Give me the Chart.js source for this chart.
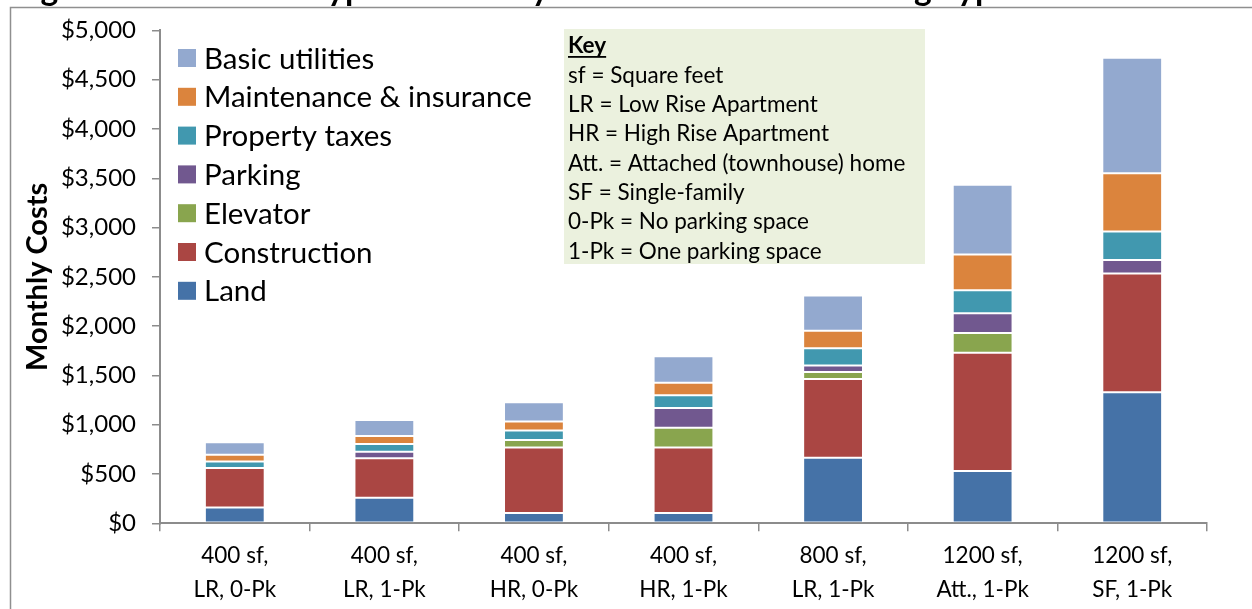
<!DOCTYPE html>
<html><head><meta charset="utf-8">
<script src="https://cdn.jsdelivr.net/npm/chart.js@4.4.1/dist/chart.umd.min.js"></script>
<style>html,body{margin:0;padding:0;background:#fff;overflow:hidden}#wrap{width:1252px;height:609px;position:relative}</style>
</head><body><div id="wrap"><canvas id="c" width="1252" height="609"></canvas></div>
<script>
const chartTitle = "Figure 3: Estimated Typical Monthly Costs of Various Housing Types";
const categories = [["400 sf,","LR, 0-Pk"],["400 sf,","LR, 1-Pk"],["400 sf,","HR, 0-Pk"],["400 sf,","HR, 1-Pk"],["800 sf,","LR, 1-Pk"],["1200 sf,","Att., 1-Pk"],["1200 sf,","SF, 1-Pk"]];
const seriesNames = ["Land","Construction","Elevator","Parking","Property taxes","Maintenance & insurance","Basic utilities"];
const land          = [160, 260, 105, 105, 665, 530, 1330];
const construction  = [400, 400, 665, 665, 800, 1200, 1205];
const elevator      = [0, 0, 75, 200, 70, 200, 0];
const parking       = [0, 65, 0, 200, 65, 200, 135];
const propertyTaxes = [68, 80, 97, 130, 175, 235, 290];
const maintenance   = [67, 80, 90, 127, 178, 362, 592];
const utilities     = [126, 164, 195, 268, 358, 706, 1170];
const yMax = 5000, yStep = 500;
const yAxisTitle = "Monthly Costs";
const keyTitle = "Key";
const keyLines = ["sf = Square feet","LR = Low Rise Apartment","HR = High Rise Apartment","Att. = Attached (townhouse) home","SF = Single-family","0-Pk = No parking space","1-Pk = One parking space"];
const colors = ["#4572A7","#AA4643","#89A54E","#71588F","#4198AF","#DB843D","#93A9CF"];

const seriesValues = [land, construction, elevator, parking, propertyTaxes, maintenance, utilities];
const FONT = "Lato, 'Open Sans', sans-serif";

const decor = {
  id: 'decor',
  afterDraw(chart) {
    const ctx = chart.ctx;
    ctx.save();
    // frame
    ctx.strokeStyle = '#8f8f8f'; ctx.lineWidth = 1.5;
    ctx.beginPath(); ctx.moveTo(10.5, 609); ctx.lineTo(10.5, 7.5); ctx.lineTo(1252, 7.5); ctx.stroke();
    // clipped title
    ctx.fillStyle = '#000'; ctx.textAlign = 'left'; ctx.textBaseline = 'alphabetic';
    ctx.font = "bold 100px " + FONT;
    const tw = ctx.measureText(chartTitle).width;
    const fs = 100 * 1014 / tw;
    ctx.font = "bold " + fs.toFixed(2) + "px " + FONT;
    ctx.fillText(chartTitle, 13, -0.5);
    // legend (reverse order)
    const ds = chart.data.datasets;
    ctx.font = "29.5px " + FONT; ctx.textBaseline = 'middle';
    for (let i = 0; i < ds.length; i++) {
      const d = ds[ds.length - 1 - i];
      const y = 58 + i * 38.8;
      ctx.fillStyle = d.backgroundColor;
      ctx.fillRect(178, y - 9, 18, 18);
      ctx.fillStyle = '#000';
      ctx.fillText(d.label, 204, y + 1);
    }
    // key box
    ctx.fillStyle = '#EBF1DE';
    ctx.fillRect(564, 29, 361, 235);
    ctx.fillStyle = '#000';
    ctx.font = "bold 22.5px " + FONT;
    ctx.fillText(keyTitle, 568, 46);
    const kw = ctx.measureText(keyTitle).width;
    ctx.fillRect(568, 56, kw, 1.8);
    ctx.font = "22.5px " + FONT;
    keyLines.forEach((t, i) => ctx.fillText(t, 568, 75.5 + i * 29.3));
    ctx.restore();
  }
};

new Chart(document.getElementById('c'), {
  type: 'bar',
  data: {
    labels: categories,
    datasets: seriesNames.map((n, i) => ({
      label: n,
      data: seriesValues[i],
      backgroundColor: colors[i],
      borderColor: 'rgba(255,255,255,0.22)',
      borderWidth: 1,
      borderSkipped: false,
      categoryPercentage: 1.0,
      barPercentage: 0.4
    }))
  },
  options: {
    responsive: false,
    animation: false,
    devicePixelRatio: 1,
    layout: { padding: { left: 0, right: 45, top: 25, bottom: 0 } },
    plugins: { legend: { display: false }, tooltip: { enabled: false }, title: { display: false } },
    scales: {
      x: {
        stacked: true,
        afterFit(s) { s.height = 85.7; },
        border: { color: '#8c8c8c', width: 2 },
        grid: { display: true, drawOnChartArea: false, drawTicks: true, tickLength: 8, color: '#8c8c8c', lineWidth: 1.5, offset: true },
        ticks: { color: '#000', font: { family: FONT, size: 22.5, lineHeight: 1.5 }, padding: 8, maxRotation: 0, autoSkip: false }
      },
      y: {
        stacked: true,
        min: 0, max: yMax,
        afterFit(s) { s.width = 160; },
        border: { color: '#8c8c8c', width: 2 },
        grid: { display: true, drawOnChartArea: false, drawTicks: true, tickLength: 8, color: '#8c8c8c', lineWidth: 1.5 },
        ticks: {
          stepSize: yStep, color: '#000', padding: 16,
          font: { family: FONT, size: 24 },
          callback: v => '$' + Number(v).toLocaleString('en-US')
        },
        title: { display: true, text: yAxisTitle, color: '#000', font: { family: FONT, size: 29, weight: 'bold' }, padding: { top: 20, bottom: 0 } }
      }
    }
  },
  plugins: [decor]
});
</script></body></html>
